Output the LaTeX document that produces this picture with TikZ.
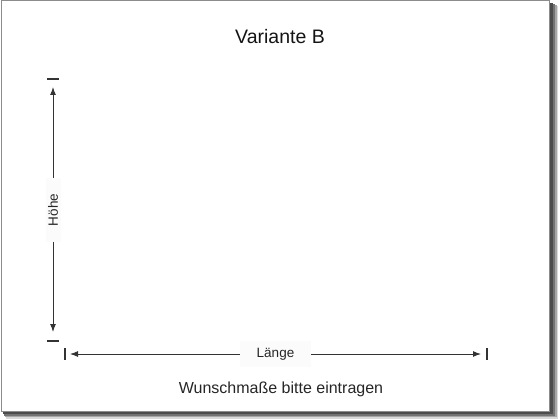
\documentclass[tikz,border=0pt]{standalone}
\usepackage{fontspec}
\setmainfont{Liberation Sans}
\usetikzlibrary{arrows.meta}
\begin{document}
\begin{tikzpicture}[x=1pt,y=-1pt,
  ink/.style={draw=black!80,line width=1pt},
  arr/.style={ink,-{Latex[length=8pt,width=6pt]}},
  tick/.style={draw=black!80,line width=1.2pt},
  lbl/.style={fill=black!1.5,text=black!85,font=\fontsize{13.5}{15}\selectfont,inner sep=0pt}]
\useasboundingbox (0,0) rectangle (560,420);
% frame with shadow
\fill[black!15] (6,6) rectangle (558,419);
\fill[black!35] (5,5) rectangle (557,417);
\fill[black!55] (4,4) rectangle (555,415.5);
\fill[black!70] (3,3) rectangle (553,414);
\fill[white,draw=black!45,line width=1pt] (1,1) rectangle (549,411);
% title
\node[text=black!92,font=\fontsize{19.5}{22}\selectfont] (title) at (280,37) {Variante B};
% vertical dimension
\coordinate (vt1) at (47,79); \coordinate (vt2) at (59,79);
\coordinate (vb1) at (47,341); \coordinate (vb2) at (59,341);
\coordinate (vtop) at (53,87); \coordinate (vbot) at (53,332);
\node[lbl,rotate=90,minimum width=64pt,minimum height=15pt] (hoehe) at (53,210) {Höhe};
\draw[tick] (vt1) -- (vt2);
\draw[tick] (vb1) -- (vb2);
\draw[arr] (hoehe.east) -- (vtop);
\draw[arr] (hoehe.west) -- (vbot);
% horizontal dimension
\coordinate (hl1) at (65,348); \coordinate (hl2) at (65,360);
\coordinate (hr1) at (487,348); \coordinate (hr2) at (487,360);
\coordinate (hleft) at (70,354); \coordinate (hright) at (481,354);
\node[lbl,minimum width=71pt,minimum height=26pt] (laenge) at (275.5,354) {Länge};
\draw[tick] (hl1) -- (hl2);
\draw[tick] (hr1) -- (hr2);
\draw[arr] (laenge.west) -- (hleft);
\draw[arr] (laenge.east) -- (hright);
% footer
\node[text=black!85,font=\fontsize{16}{18}\selectfont] (note) at (281,389) {Wunschmaße bitte eintragen};
\end{tikzpicture}
\end{document}
